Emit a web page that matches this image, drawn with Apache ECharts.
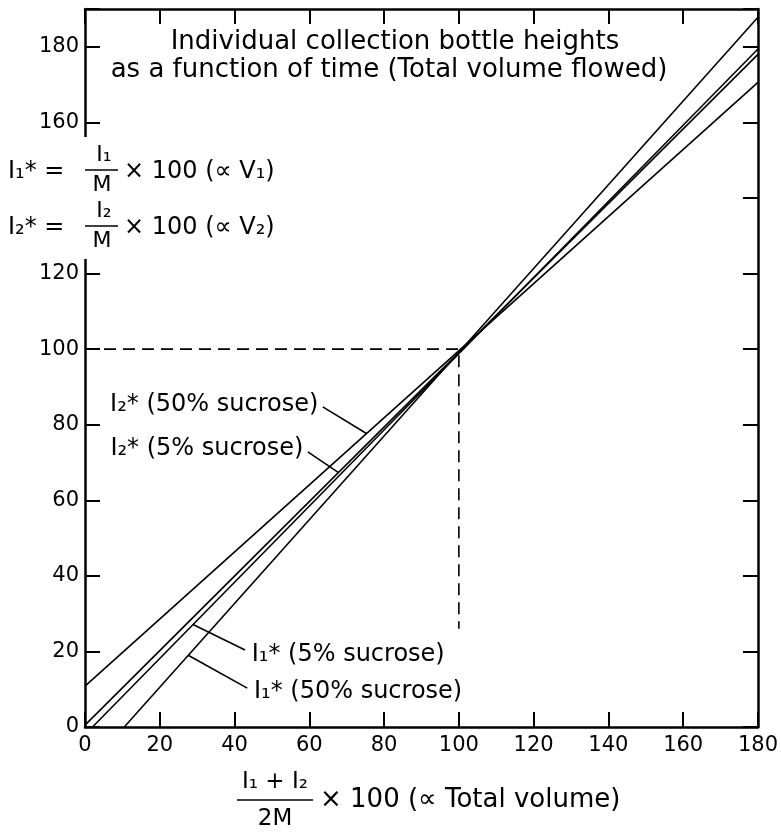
<!DOCTYPE html>
<html>
<head>
<meta charset="utf-8">
<script src="https://cdn.jsdelivr.net/npm/echarts@6/dist/echarts.min.js"></script>
<style>
  html, body { margin: 0; padding: 0; background: #fff; }
  #chart { width: 781px; height: 833px; }
</style>
</head>
<body>
<div id="chart"></div>
<script>
// axis ticks
var xTickValues = [0, 20, 40, 60, 80, 100, 120, 140, 160, 180]
var yTickValues = [0, 20, 40, 60, 80, 100, 120, 140, 160, 180]

// the four bottle-height lines (x, y end points)
var i2Sucrose50 = [[0, 10.8], [180, 170.6]]
var i2Sucrose5 = [[0, 0.5], [180, 178]]
var i1Sucrose5 = [[2, 0], [180, 179.4]]
var i1Sucrose50 = [[10.5, 0], [180, 187.8]]

// dashed guide to the crossing point
var guideLine = [[0, 100], [100, 100], [100, 26]]

// leader lines from labels to curves
var leaderI2s50 = [[63.6, 84.7], [75.4, 77.6]]
var leaderI2s5 = [[59.6, 72.8], [67.8, 67.3]]
var leaderI1s5 = [[28.9, 27.1], [42.8, 20.4]]
var leaderI1s50 = [[27.6, 19], [43.4, 10.3]]

// curve labels (anchor in data units)
var labelsRight = [
  { value: [62.4, 85.4], text: 'I₂* (50% sucrose)' },
  { value: [58.4, 73.6], text: 'I₂* (5% sucrose)' }
]
var labelsLeft = [
  { value: [44.6, 19.2], text: 'I₁* (5% sucrose)' },
  { value: [45.2, 9.2], text: 'I₁* (50% sucrose)' }
]

var font = 'DejaVu Sans'
var black = '#000'

function lineSeries(data, dashed) {
  return {
    type: 'line',
    data: data,
    symbol: 'none',
    silent: true,
    animation: false,
    lineStyle: {
      color: black,
      width: 1.6,
      type: dashed ? [12, 7] : 'solid'
    }
  }
}

function labelSeries(items, align) {
  return {
    type: 'scatter',
    symbolSize: 0,
    silent: true,
    animation: false,
    itemStyle: { opacity: 1 },
    data: items.map(function(d) { return { value: d.value, name: d.text } }),
    label: {
      show: true,
      position: 'inside',
      align: align,
      verticalAlign: 'middle',
      formatter: function(p) { return p.name },
      color: black,
      opacity: 1,
      textBorderWidth: 0,
      fontFamily: font,
      fontSize: 24
    }
  }
}

function axis(extra) {
  return Object.assign({
    type: 'value',
    min: 0,
    interval: 20,
    splitLine: { show: false },
    axisLine: { show: true, onZero: false, lineStyle: { color: black, width: 2.5 } },
    axisTick: { show: true, inside: true, length: 15, lineStyle: { color: black, width: 2 } }
  }, extra)
}

var textStyle = function(text, size, align) {
  return { text: text, font: size + 'px "DejaVu Sans"', fill: black, align: align || 'left', verticalAlign: 'middle' }
}

var chart = echarts.init(document.getElementById('chart'))
chart.setOption({
  backgroundColor: '#fff',
  animation: false,
  grid: { left: 85, right: 11, top: 9, bottom: 106 },
  xAxis: [
    axis({
      max: 180,
      position: 'bottom',
      axisLabel: {
        color: black, fontFamily: font, fontSize: 21, margin: 8,
        formatter: function(v) { return xTickValues.indexOf(v) >= 0 ? String(v) : '' }
      }
    }),
    axis({ max: 180, position: 'top', axisLabel: { show: false } })
  ],
  yAxis: [
    axis({
      max: 190,
      position: 'left',
      axisLabel: {
        color: black, fontFamily: font, fontSize: 21, margin: 6,
        formatter: function(v) { return yTickValues.indexOf(v) >= 0 ? String(v) : '' }
      }
    }),
    axis({ max: 190, position: 'right', axisLabel: { show: false } })
  ],
  series: [
    lineSeries(i2Sucrose50),
    lineSeries(i2Sucrose5),
    lineSeries(i1Sucrose5),
    lineSeries(i1Sucrose50),
    lineSeries(guideLine, true),
    lineSeries(leaderI2s50),
    lineSeries(leaderI2s5),
    lineSeries(leaderI1s5),
    lineSeries(leaderI1s50),
    labelSeries(labelsRight, 'right'),
    labelSeries(labelsLeft, 'left')
  ],
  graphic: [
    // chart title
    { type: 'text', x: 395, y: 42, z: 101, style: textStyle('Individual collection bottle heights', 26, 'center') },
    { type: 'text', x: 389, y: 70, z: 101, style: textStyle('as a function of time (Total volume flowed)', 26, 'center') },
    // white box that breaks the axis behind the formulas
    { type: 'rect', z: 100, shape: { x: 0, y: 137, width: 290, height: 122 }, style: { fill: '#fff' } },
    // I1* formula
    { type: 'text', x: 8, y: 172, z: 101, style: textStyle('I₁* =', 24) },
    { type: 'text', x: 104, y: 155, z: 101, style: textStyle('I₁', 22, 'center') },
    { type: 'line', z: 101, shape: { x1: 85, y1: 170, x2: 118, y2: 170 }, style: { stroke: black, lineWidth: 1.6 } },
    { type: 'text', x: 102, y: 185, z: 101, style: textStyle('M', 22, 'center') },
    { type: 'text', x: 124, y: 172, z: 101, style: textStyle('× 100 (∝ V₁)', 24) },
    // I2* formula
    { type: 'text', x: 8, y: 228, z: 101, style: textStyle('I₂* =', 24) },
    { type: 'text', x: 104, y: 211, z: 101, style: textStyle('I₂', 22, 'center') },
    { type: 'line', z: 101, shape: { x1: 85, y1: 226, x2: 118, y2: 226 }, style: { stroke: black, lineWidth: 1.6 } },
    { type: 'text', x: 102, y: 241, z: 101, style: textStyle('M', 22, 'center') },
    { type: 'text', x: 124, y: 228, z: 101, style: textStyle('× 100 (∝ V₂)', 24) },
    // x axis title
    { type: 'text', x: 275, y: 782, z: 101, style: textStyle('I₁ + I₂', 23, 'center') },
    { type: 'line', z: 101, shape: { x1: 237, y1: 800, x2: 313, y2: 800 }, style: { stroke: black, lineWidth: 1.6 } },
    { type: 'text', x: 275, y: 819, z: 101, style: textStyle('2M', 23, 'center') },
    { type: 'text', x: 320, y: 800, z: 101, style: textStyle('× 100 (∝ Total volume)', 26) }
  ]
})
</script>
</body>
</html>
